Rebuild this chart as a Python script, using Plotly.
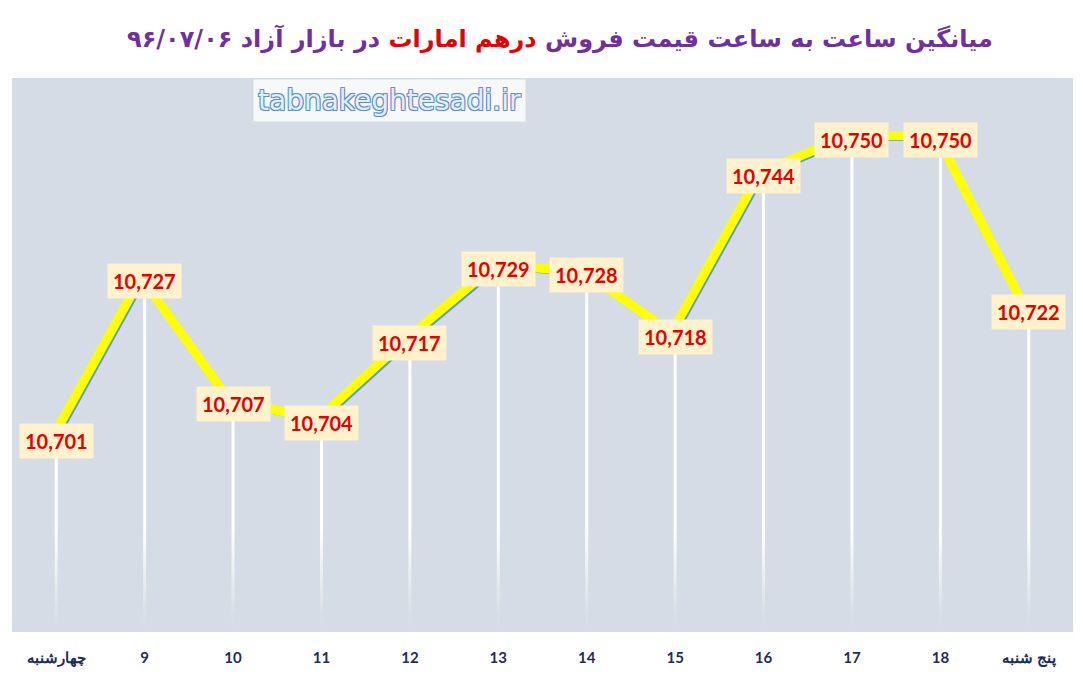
import plotly.graph_objects as go

# hourly average selling price of UAE dirham, free market, 96/07/06
hours = ["چهارشنبه", "9", "10", "11", "12", "13", "14", "15", "16", "17", "18", "پنج شنبه"]
prices = [10701, 10727, 10707, 10704, 10717, 10729, 10728, 10718, 10744, 10750, 10750, 10722]

y_lo, y_hi = 10670, 10760
fade_top = 10687
bg = "#D6DCE5"
n = len(hours)

# shadow offset in axis units (~3.5px)
dx = 0.04
dy = 0.6

fig = go.Figure()

# white drop lines from each point to the floor
fig.add_trace(go.Scatter(
    x=hours, y=prices, mode="markers",
    marker=dict(size=1, opacity=0),
    error_y=dict(type="data", symmetric=False,
                 array=[0] * n,
                 arrayminus=[p - y_lo for p in prices],
                 color="white", thickness=3, width=0),
    hoverinfo="skip", showlegend=False,
))

# blue shadow line
fig.add_trace(go.Scatter(
    x=hours, y=prices, mode="lines",
    line=dict(color="#5B9BD5", width=3),
    hoverinfo="skip", showlegend=False,
))

# fade the drop lines out near the bottom (linear overlay axis spanning the plot)
fig.add_trace(go.Scatter(
    x=[-0.5, n - 0.5, n - 0.5, -0.5, -0.5],
    y=[y_lo, y_lo, fade_top, fade_top, y_lo],
    xaxis="x3", yaxis="y",
    mode="lines", line=dict(width=0), fill="toself",
    fillgradient=dict(type="vertical", start=y_lo, stop=fade_top,
                      colorscale=[[0, "rgba(214,220,229,1)"],
                                  [0.12, "rgba(214,220,229,0.97)"],
                                  [1, "rgba(214,220,229,0)"]]),
    hoverinfo="skip", showlegend=False,
))

# yellow main line, drawn on shifted overlay axes
fig.add_trace(go.Scatter(
    x=hours, y=prices, mode="lines",
    line=dict(color="#FFFF00", width=9),
    xaxis="x2", yaxis="y2",
    showlegend=False,
))

for i, p in enumerate(prices):
    fig.add_annotation(
        x=i, y=p, text=f"<b>{p:,}</b>", showarrow=False,
        font=dict(family="Lato", size=20, color="#E60000"),
        bgcolor="#FFF2CC", borderpad=5,
    )

title_txt = ("میانگین ساعت به ساعت قیمت فروش "
             "<span style='color:#E60000'>درهم امارات</span>"
             " در بازار آزاد ۹۶/۰۷/۰۶")
fig.add_annotation(
    xref="paper", yref="paper", x=0.5165, y=1.0, yshift=40,
    xanchor="center", yanchor="middle",
    text=f"<b>{title_txt}</b>", showarrow=False,
    font=dict(family="DejaVu Sans", size=24, color="#7030A0"),
)

fig.add_annotation(
    xref="paper", yref="paper", x=0.356, y=1.0, yshift=-22,
    xanchor="center", yanchor="middle",
    text="tabnakeghtesadi.ir", showarrow=False,
    font=dict(family="DejaVu Sans", size=28, color="#E3EEFA",
              shadow="-1px -1px 0 #5B8FD0, 1px -1px 0 #5B8FD0, -1px 1px 0 #5B8FD0, 1px 1px 0 #5B8FD0"),
    bgcolor="rgba(255,255,255,0.8)", borderpad=4,
)

hidden = dict(showgrid=False, zeroline=False, showticklabels=False, ticks="")

fig.update_layout(
    width=1075, height=672,
    margin=dict(l=4, r=10, t=70, b=48),
    paper_bgcolor="white",
    plot_bgcolor=bg,
    showlegend=False,
    xaxis=dict(type="category", range=[-0.5, n - 0.5],
               showgrid=False, zeroline=False, showline=False,
               ticks="outside", ticklen=12, tickcolor="rgba(0,0,0,0)",
               tickfont=dict(family="Lato", size=15, color="#1F2D5A", weight="bold")),
    yaxis=dict(range=[y_lo, y_hi], **hidden),
    xaxis2=dict(type="category", overlaying="x",
                range=[-0.5 + dx, n - 0.5 + dx], **hidden),
    yaxis2=dict(overlaying="y", range=[y_lo - dy, y_hi - dy], **hidden),
    xaxis3=dict(type="linear", overlaying="x", range=[-0.5, n - 0.5], **hidden),
)

fig.write_html("out.html")
